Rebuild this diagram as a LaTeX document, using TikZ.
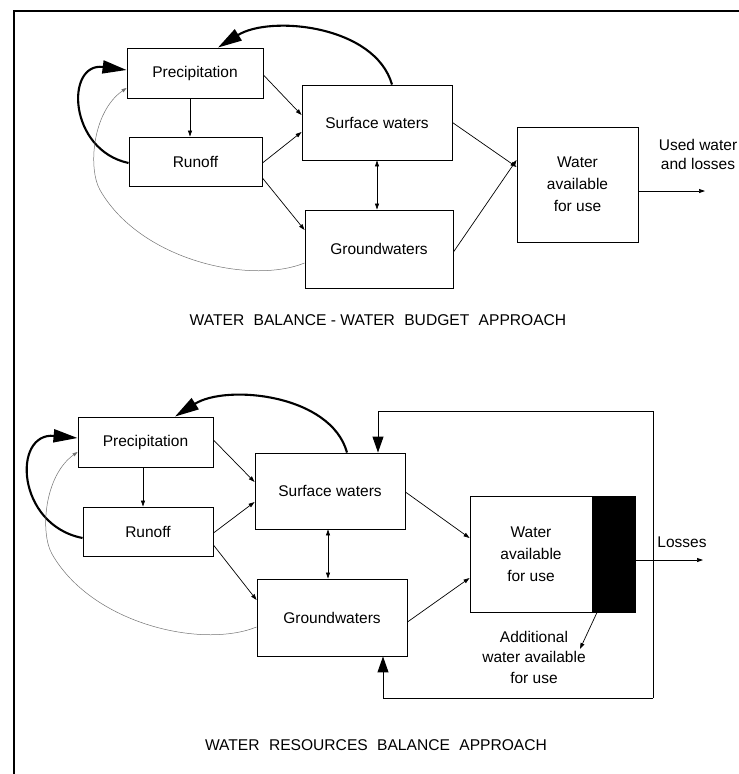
\documentclass[tikz,border=0pt]{standalone}
\usepackage{fontspec}
\setmainfont{Liberation Sans}
\usetikzlibrary{arrows.meta,calc}

\begin{document}
\begin{tikzpicture}[x=1pt,y=-1pt,
  box/.style={draw, line width=0.9pt, inner sep=0pt, align=center,
              font=\fontsize{15.5}{22}\selectfont},
  lbl/.style={inner sep=0pt, align=center, font=\fontsize{15.5}{20}\selectfont},
  captext/.style={inner sep=0pt, font=\fontsize{15.6}{18}\selectfont},
  flow/.style={line width=0.7pt, -{Triangle[length=6pt,width=4pt]}},
  flowboth/.style={line width=0.7pt, {Triangle[length=6pt,width=4pt]}-{Triangle[length=6pt,width=4pt]}},
  heavy/.style={line width=2.1pt, -{Triangle[length=24pt,width=13pt]}},
  feedtip/.style={line width=1pt, -{Triangle[length=16pt,width=11pt]}},
  faint/.style={line width=0.5pt, black!55, -{Triangle[length=5pt,width=3.5pt]}}]

\useasboundingbox (0,0) rectangle (739,774);

% page frame
\draw[line width=1.2pt] (14,774) -- (14,11) -- (739,11);

% ---------------- water budget approach ----------------
\node[box, minimum width=136pt, minimum height=50pt] (pr) at (195,73) {Precipitation};
\node[box, minimum width=133pt, minimum height=49pt] (ro) at (195.5,161.5) {Runoff};
\node[box, minimum width=150pt, minimum height=75pt] (sw) at (377,122.5) {Surface waters};
\node[box, minimum width=148pt, minimum height=78pt] (gw) at (379,249) {Groundwaters};
\node[box, minimum width=121pt, minimum height=115pt] (wa) at (577.5,184.5) {Water\\available\\for use};
\node[lbl, font=\fontsize{15.5}{19}\selectfont] (used) at (698,154.5) {Used water\\and losses};
\coordinate (out) at (705,191);

\draw[flow] ([xshift=-5pt]pr.south) -- ([xshift=-5pt]pr.south |- ro.north);
\draw[flow] ([yshift=-2pt]pr.east) -- ([yshift=7.5pt]sw.west);
\draw[flow] ([yshift=-1.5pt]ro.east) -- ([yshift=-9.5pt]sw.west);
\draw[flow] ([yshift=-16.5pt]ro.east) -- ([yshift=19pt]gw.west);
\draw[flow] (sw.east) -- ([yshift=17.5pt]wa.west);
\draw[flow] ([yshift=-3pt]gw.east) -- ([yshift=24.5pt]wa.west);
\draw[flowboth] (sw.south) -- (sw.south |- gw.north);
\draw[flow] ([yshift=-6.5pt]wa.east) -- (out);

% recycling loops back to precipitation
\draw[heavy] ([xshift=15pt]sw.north) .. controls (375,25) and (270,15) .. ([xshift=23pt]pr.north);
\draw[heavy] ([yshift=-1.5pt]ro.west) .. controls (68,150) and (65,62) .. ([yshift=3pt]pr.west);
\draw[faint] ([yshift=-14pt]gw.west) .. controls (250,285) and (140,260) .. (100,190)
  .. controls (88,169) and (92,112) .. ([yshift=-15pt]pr.west);

\node[captext] (cap1) at (378,320) {WATER\hspace{0.6em}BALANCE - WATER\hspace{0.6em}BUDGET\hspace{0.6em}APPROACH};

% ---------------- water resources balance approach ----------------
\node[box, minimum width=135pt, minimum height=50pt] (pr2) at (145.5,442) {Precipitation};
\node[box, minimum width=130pt, minimum height=49pt] (ro2) at (148,531.5) {Runoff};
\node[box, minimum width=150pt, minimum height=76pt] (sw2) at (330,491) {Surface waters};
\node[box, minimum width=150pt, minimum height=77pt] (gw2) at (332,617.5) {Groundwaters};
\node[box, minimum width=122pt, minimum height=116pt] (wa2) at (531,554) {Water\\available\\for use};
\node[draw, line width=0.9pt, fill=black, inner sep=0pt, minimum width=43pt, minimum height=116pt] (extra) at (613.5,554) {};
\node[lbl] (loss) at (682,542) {Losses};
\node[lbl, font=\fontsize{15.5}{20.5}\selectfont] (addl) at (534,657) {Additional\\water available\\for use};
\coordinate (out2) at (703,560);
\coordinate (addtip) at (580,649);
\coordinate (fbtop) at (653,411);
\coordinate (fbbot) at (653,698);

\draw[flow] ([xshift=-2.5pt]pr2.south) -- ([xshift=-2.5pt]pr2.south |- ro2.north);
\draw[flow] ([yshift=2pt]pr2.east) -- ([yshift=9pt]sw2.west);
\draw[flow] ([yshift=-1.5pt]ro2.east) -- ([yshift=-11pt]sw2.west);
\draw[flow] ([yshift=-13.5pt]ro2.east) -- ([yshift=17.5pt]gw2.west);
\draw[flow] ([yshift=-1pt]sw2.east) -- ([yshift=16pt]wa2.west);
\draw[flow] ([yshift=-4.5pt]gw2.east) -- ([yshift=-24pt]wa2.west);
\draw[flowboth] ([xshift=-2pt]sw2.south) -- ([xshift=-2pt]sw2.south |- gw2.north);
\draw[flow] ([yshift=-6pt]extra.east) -- (out2);
\draw[flow] ([xshift=-16.5pt]extra.south) -- (addtip);

% feedback of additional water into the stores
\draw[line width=1pt] (fbtop) -- (fbbot);
\draw[feedtip] (fbtop) -| ([xshift=48pt]sw2.north);
\draw[feedtip] (fbbot) -| ([xshift=51pt]gw2.south);

% recycling loops back to precipitation
\draw[heavy] ([xshift=17pt]sw2.north) .. controls (331,394) and (226,384) .. ([xshift=29.5pt]pr2.north);
\draw[heavy] ([yshift=-6.5pt]ro2.west) .. controls (16,525) and (12,432) .. ([yshift=4pt]pr2.west);
\draw[faint] ([yshift=-9.5pt]gw2.west) .. controls (202,649) and (92,624) .. (52,554)
  .. controls (40,533) and (44,476) .. ([yshift=-10pt]pr2.west);

\node[captext] (cap2) at (376,745) {WATER\hspace{0.6em}RESOURCES\hspace{0.6em}BALANCE\hspace{0.6em}APPROACH};

\end{tikzpicture}
\end{document}
